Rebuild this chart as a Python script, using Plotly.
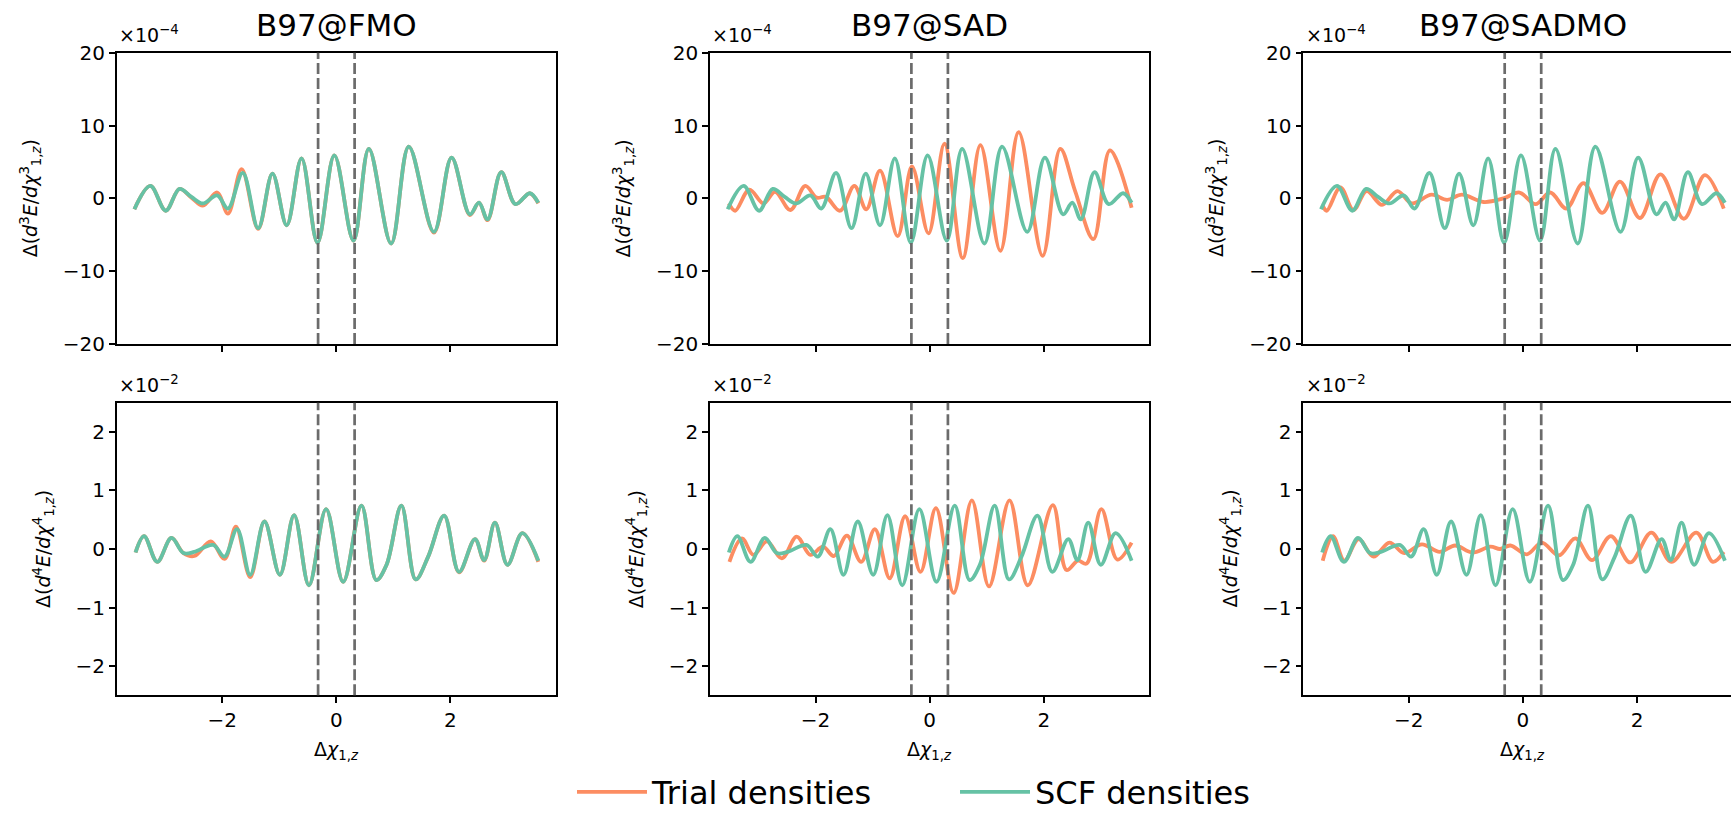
import plotly.graph_objects as go

# ---------------- data ----------------
methods = ["B97@FMO", "B97@SAD", "B97@SADMO"]
series_names = ["Trial densities", "SCF densities"]
boundary_lines = [-0.32, 0.32]

x_ticks = [-2, 0, 2]
x_tick_text = ["\u22122", "0", "2"]
d3_ticks = [-20, -10, 0, 10, 20]
d3_tick_text = ["\u221220", "\u221210", "0", "10", "20"]
d4_ticks = [-2, -1, 0, 1, 2]
d4_tick_text = ["\u22122", "\u22121", "0", "1", "2"]

# third derivative differences (units of 1e-4)
scf_d3_x = [-3.54, -3.26, -2.99, -2.75, -2.54, -2.34, -2.09, -1.90, -1.64, -1.37, -1.12, -0.87,
            -0.61, -0.33, -0.035, 0.30, 0.57, 0.96, 1.27, 1.71, 2.02, 2.34, 2.50, 2.65, 2.89,
            3.14, 3.39, 3.54]
scf_d3_y = [-1.5, 1.7, -1.7, 1.3, 0.2, -0.7, 0.4, -1.4, 3.5, -4.1, 3.4, -3.7,
            5.5, -6.1, 5.9, -5.8, 6.8, -6.2, 7.1, -4.6, 5.6, -2.2, -0.6, -2.9, 3.6,
            -0.8, 0.7, -0.6]

fmo_d3_x = [-3.54, -3.26, -2.99, -2.75, -2.54, -2.34, -2.09, -1.90, -1.66, -1.37, -1.12, -0.87,
            -0.61, -0.33, -0.035, 0.30, 0.57, 0.96, 1.27, 1.71, 2.02, 2.34, 2.50, 2.65, 2.89,
            3.14, 3.39, 3.54]
fmo_d3_y = [-1.5, 1.7, -1.7, 1.3, 0.1, -1.0, 0.8, -2.1, 4.0, -4.2, 3.4, -3.7,
            5.5, -6.1, 5.9, -5.8, 6.8, -6.2, 7.1, -4.7, 5.6, -2.3, -0.6, -3.0, 3.6,
            -0.8, 0.7, -0.7]

sad_d3_x = [-3.52, -3.41, -3.16, -2.91, -2.71, -2.44, -2.18, -1.98, -1.82, -1.57, -1.32, -1.11,
            -0.87, -0.56, -0.31, -0.02, 0.26, 0.58, 0.89, 1.24, 1.56, 1.98, 2.29, 2.55,
            2.87, 3.16, 3.54]
sad_d3_y = [-0.7, -1.7, 1.2, -0.7, 0.9, -1.6, 1.7, 0.1, 0.2, -1.7, 1.7, -1.5,
            3.8, -5.2, 4.4, -4.8, 7.5, -8.2, 7.3, -7.2, 9.1, -7.9, 6.8, 1.0,
            -5.6, 6.6, -1.3]

sadmo_d3_x = [-3.51, -3.44, -3.20, -2.97, -2.74, -2.47, -2.20, -1.95, -1.60, -1.33, -1.07, -0.69,
              -0.34, -0.06, 0.22, 0.48, 0.76, 1.06, 1.39, 1.70, 2.05, 2.41, 2.82, 3.19, 3.52]
sadmo_d3_y = [-1.0, -1.7, 1.5, -1.6, 1.0, -0.9, 1.0, -0.7, 0.5, -0.2, 0.5, -0.5,
              0.0, 0.8, -0.8, 0.8, -1.4, 2.1, -2.0, 2.3, -2.7, 3.3, -2.8, 3.2, -1.4]

# fourth derivative differences (units of 1e-2)
scf_d4_x = [-3.52, -3.37, -3.14, -2.89, -2.68, -2.49, -2.16, -1.96, -1.74, -1.51, -1.26, -0.99,
            -0.74, -0.48, -0.18, 0.12, 0.44, 0.70, 0.88, 1.14, 1.39, 1.61, 1.89, 2.15, 2.43,
            2.59, 2.78, 3.00, 3.26, 3.54]
scf_d4_y = [-0.06, 0.22, -0.22, 0.19, -0.07, -0.05, 0.07, -0.13, 0.34, -0.44, 0.47, -0.44,
            0.58, -0.62, 0.68, -0.56, 0.74, -0.53, -0.27, 0.74, -0.52, -0.13, 0.57, -0.39, 0.17,
            -0.19, 0.45, -0.27, 0.27, -0.20]

fmo_d4_x = [-3.52, -3.37, -3.14, -2.89, -2.68, -2.49, -2.20, -1.96, -1.76, -1.51, -1.26, -0.99,
            -0.74, -0.48, -0.18, 0.12, 0.44, 0.70, 0.88, 1.14, 1.39, 1.61, 1.89, 2.15, 2.43,
            2.59, 2.78, 3.00, 3.26, 3.54]
fmo_d4_y = [-0.06, 0.22, -0.22, 0.19, -0.07, -0.12, 0.13, -0.17, 0.38, -0.48, 0.47, -0.44,
            0.58, -0.62, 0.68, -0.56, 0.74, -0.53, -0.27, 0.74, -0.52, -0.13, 0.57, -0.40, 0.17,
            -0.20, 0.45, -0.27, 0.27, -0.22]

sad_d4_x = [-3.51, -3.29, -3.09, -2.85, -2.59, -2.33, -2.09, -1.87, -1.68, -1.45, -1.20, -0.96,
            -0.70, -0.43, -0.16, 0.11, 0.42, 0.74, 1.04, 1.40, 1.72, 2.16, 2.40, 2.60,
            2.75, 3.01, 3.29, 3.54]
sad_d4_y = [-0.22, 0.18, -0.10, 0.13, -0.16, 0.21, -0.10, 0.04, -0.12, 0.23, -0.22, 0.34,
            -0.50, 0.56, -0.39, 0.70, -0.75, 0.83, -0.64, 0.83, -0.62, 0.75, -0.36, -0.20,
            -0.25, 0.68, -0.18, 0.11]

sadmo_d4_x = [-3.51, -3.33, -3.13, -2.88, -2.62, -2.34, -2.08, -1.77, -1.46, -1.19, -0.89, -0.57,
              -0.40, -0.22, 0.07, 0.33, 0.63, 0.92, 1.21, 1.54, 1.88, 2.25, 2.60, 3.04, 3.33, 3.52]
sadmo_d4_y = [-0.20, 0.22, -0.20, 0.17, -0.13, 0.11, -0.07, 0.08, -0.05, 0.06, -0.06, 0.04,
              0.00, 0.06, -0.09, 0.11, -0.11, 0.18, -0.19, 0.22, -0.23, 0.28, -0.22, 0.28, -0.22, -0.05]

trial_d3 = [(fmo_d3_x, fmo_d3_y), (sad_d3_x, sad_d3_y), (sadmo_d3_x, sadmo_d3_y)]
trial_d4 = [(fmo_d4_x, fmo_d4_y), (sad_d4_x, sad_d4_y), (sadmo_d4_x, sadmo_d4_y)]

# ---------------- style / layout ----------------
W, H = 1731, 813
FONT = "DejaVu Sans"
ORANGE = "#fc8d62"
GREEN = "#66c2a5"
DASH_COLOR = "#6b6b6b"

ppu = (556.0 - 116.7) / 7.7
col_left = [116.7, 710.0, 1303.3]
col_right = [556.0, 1148.8, 1742.0]
row_px = [(52.7, 344.0), (402.7, 695.3)]
X0 = -3.85

fig = go.Figure()

def ax_id(r, c):
    return r * 3 + c + 1

layout_axes = {}
for r in range(2):
    for c in range(3):
        k = ax_id(r, c)
        sfx = "" if k == 1 else str(k)
        right_px = min(col_right[c], W)
        xr = [X0, X0 + (right_px - col_left[c]) / ppu]
        top, bot = row_px[r]
        common = dict(showline=True, linecolor="black", linewidth=1.5, ticks="outside",
                      ticklen=6, tickwidth=1.5, tickcolor="black", showgrid=False,
                      zeroline=False, automargin=False,
                      tickfont=dict(family=FONT, size=20, color="black"))
        layout_axes["xaxis" + sfx] = dict(
            domain=[col_left[c] / W, right_px / W], range=xr, anchor="y" + sfx,
            tickvals=x_ticks, ticktext=x_tick_text, showticklabels=(r == 1),
            mirror=True, **common)
        layout_axes["yaxis" + sfx] = dict(
            domain=[1 - bot / H, 1 - top / H], anchor="x" + sfx,
            range=[-20, 20] if r == 0 else [-2.5, 2.5],
            tickvals=d3_ticks if r == 0 else d4_ticks,
            ticktext=d3_tick_text if r == 0 else d4_tick_text,
            mirror=(c < 2), **common)

for r in range(2):
    for c in range(3):
        k = ax_id(r, c)
        xa = "x" if k == 1 else "x%d" % k
        ya = "y" if k == 1 else "y%d" % k
        tx, ty = (trial_d3 if r == 0 else trial_d4)[c]
        sx, sy = (scf_d3_x, scf_d3_y) if r == 0 else (scf_d4_x, scf_d4_y)
        show = (r == 0 and c == 0)
        fig.add_trace(go.Scatter(x=tx, y=ty, mode="lines", name=series_names[0],
                                 line=dict(color=ORANGE, width=3.8, shape="spline", smoothing=1.0),
                                 xaxis=xa, yaxis=ya, showlegend=show, legendrank=1))
        fig.add_trace(go.Scatter(x=sx, y=sy, mode="lines", name=series_names[1],
                                 line=dict(color=GREEN, width=3.8, shape="spline", smoothing=1.0),
                                 xaxis=xa, yaxis=ya, showlegend=show, legendrank=2))
        for v in boundary_lines:
            fig.add_shape(type="line", xref=xa, yref=ya + " domain", x0=v, x1=v, y0=0, y1=1,
                          line=dict(color=DASH_COLOR, width=2.7, dash="11px,4px"), layer="above")

annotations = []
ylab3 = "\u0394(<i>d</i><sup>3</sup><i>E</i>/<i>d\u03c7</i><sup>3</sup><sub>1,<i>z</i></sub>)"
ylab4 = "\u0394(<i>d</i><sup>4</sup><i>E</i>/<i>d\u03c7</i><sup>4</sup><sub>1,<i>z</i></sub>)"
xlab = "\u0394<i>\u03c7</i><sub>1,<i>z</i></sub>"
for c in range(3):
    zero_px = col_left[c] - X0 * ppu
    off = col_left[c] - 116.7
    annotations.append(dict(text=methods[c], x=zero_px / W, y=1 - 25 / H, xref="paper", yref="paper",
                            showarrow=False, xanchor="center", yanchor="middle",
                            font=dict(family=FONT, size=31, color="black")))
    annotations.append(dict(text="\u00d710<sup>\u22124</sup>", x=(117 + off) / W, y=1 - 34 / H,
                            xref="paper", yref="paper", showarrow=False, xanchor="left",
                            yanchor="middle", font=dict(family=FONT, size=19, color="black")))
    annotations.append(dict(text="\u00d710<sup>\u22122</sup>", x=(117 + off) / W, y=1 - 384 / H,
                            xref="paper", yref="paper", showarrow=False, xanchor="left",
                            yanchor="middle", font=dict(family=FONT, size=19, color="black")))
    annotations.append(dict(text=ylab3, x=(30 + off) / W, y=1 - 198.3 / H, xref="paper", yref="paper",
                            showarrow=False, textangle=-90, xanchor="center", yanchor="middle",
                            font=dict(family=FONT, size=19, color="black")))
    annotations.append(dict(text=ylab4, x=(43 + off) / W, y=1 - 549 / H, xref="paper", yref="paper",
                            showarrow=False, textangle=-90, xanchor="center", yanchor="middle",
                            font=dict(family=FONT, size=19, color="black")))
    annotations.append(dict(text=xlab, x=zero_px / W, y=1 - 750 / H, xref="paper", yref="paper",
                            showarrow=False, xanchor="center", yanchor="middle",
                            font=dict(family=FONT, size=19, color="black")))

fig.update_layout(
    width=W, height=H, margin=dict(l=0, r=0, t=0, b=0, autoexpand=False),
    paper_bgcolor="white", plot_bgcolor="white",
    font=dict(family=FONT, size=19, color="black"),
    annotations=annotations,
    legend=dict(orientation="h", x=572 / W, xanchor="left", y=1 - 792 / H, yanchor="middle",
                font=dict(family=FONT, size=32, color="black"), itemwidth=70,
                entrywidth=298, entrywidthmode="pixels", bgcolor="rgba(0,0,0,0)"),
    **layout_axes,
)

fig.write_html("out.html")
